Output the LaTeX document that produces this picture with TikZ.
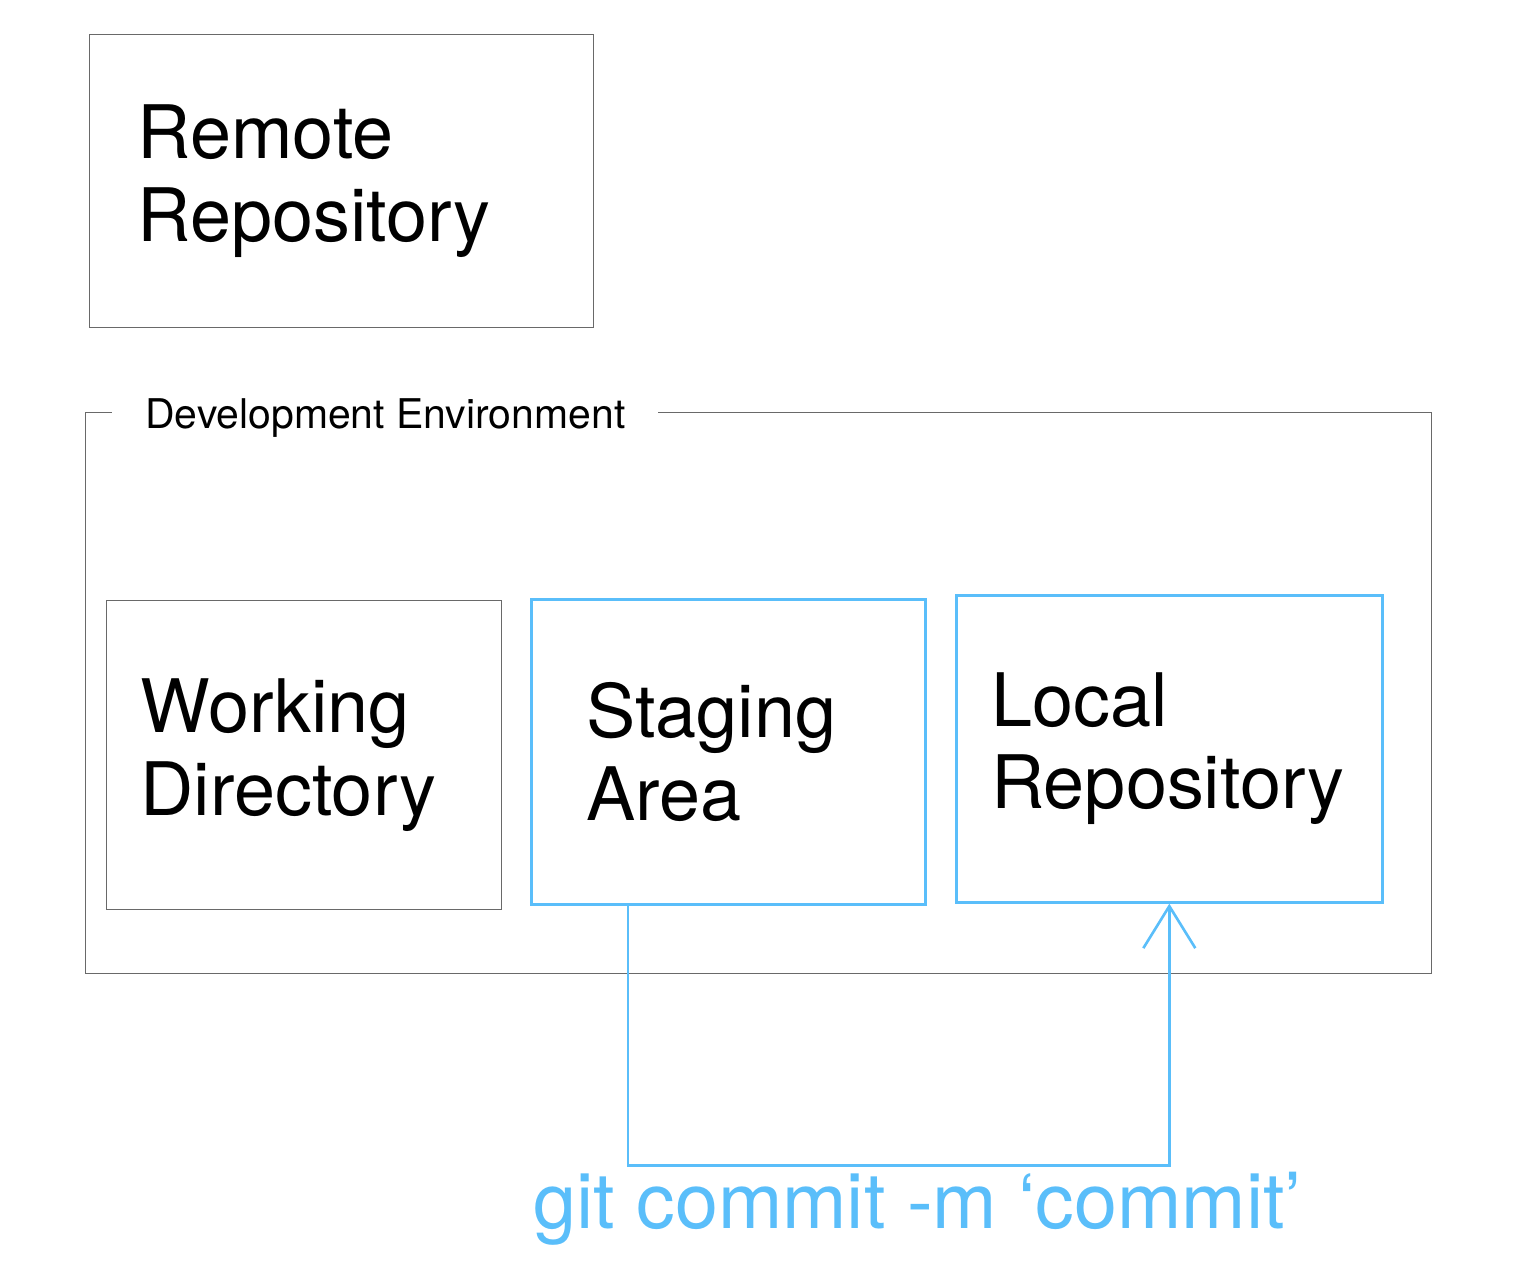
\documentclass[tikz,border=0pt]{standalone}
\usepackage{fontspec}
\setmainfont{TeX Gyre Heros}
\usetikzlibrary{positioning,calc,arrows.meta}
\definecolor{gitblue}{RGB}{90,190,250}
\definecolor{boxgrey}{RGB}{105,105,105}
\newdimen\px
\px=0.02cm

\begin{document}
\begin{tikzpicture}[x=0.02cm,y=-0.02cm,
    area/.style={draw=boxgrey, line width=0.8pt, align=left, anchor=north west,
      inner ysep=0pt, font=\fontsize{42}{47}\selectfont},
    stage/.style={area, draw=gitblue, line width=1.5pt},
    flow/.style={draw=gitblue, line width=1.5pt, -{Straight Barb[length=0.84cm,width=1.04cm]}}]
  \useasboundingbox (0,0) rectangle (1520,1282);

  % remote side
  \node[area, minimum width=504\px, minimum height=293\px, inner xsep=48\px, text width=408\px]
    (remote) at (89,34) {Remote\\Repository};

  % development environment frame
  \node[draw=boxgrey, line width=0.8pt, anchor=north west, minimum width=1346\px, minimum height=561\px,
    inner sep=0pt] (dev) at (85,412) {};
  \node[fill=white, anchor=base west, inner xsep=33\px, font=\fontsize{23.3}{28}\selectfont]
    (devlabel) at ($(dev.north west)+(27,16)$) {Development Environment};

  \node[area, minimum width=395\px, minimum height=309\px, inner xsep=34\px, text width=327\px]
    (working) at (106,600) {Working\\Directory};
  \node[stage, minimum width=394\px, minimum height=305\px, inner xsep=55\px, text width=284\px]
    (staging) at (530,598) {Staging\\Area};
  \node[stage, minimum width=426\px, minimum height=307\px, inner xsep=35\px, text width=356\px]
    (local) at (955,594) {Local\\Repository};

  % commit
  \draw[flow] ($(staging.south west)+(98,0)$) -- ++(0,260) -| (local.south);
  \node[anchor=base west, inner sep=0pt, text=gitblue, font=\fontsize{44}{49}\selectfont]
    (cmd) at (533,1228) {git commit -m ‘commit’};
\end{tikzpicture}
\end{document}
